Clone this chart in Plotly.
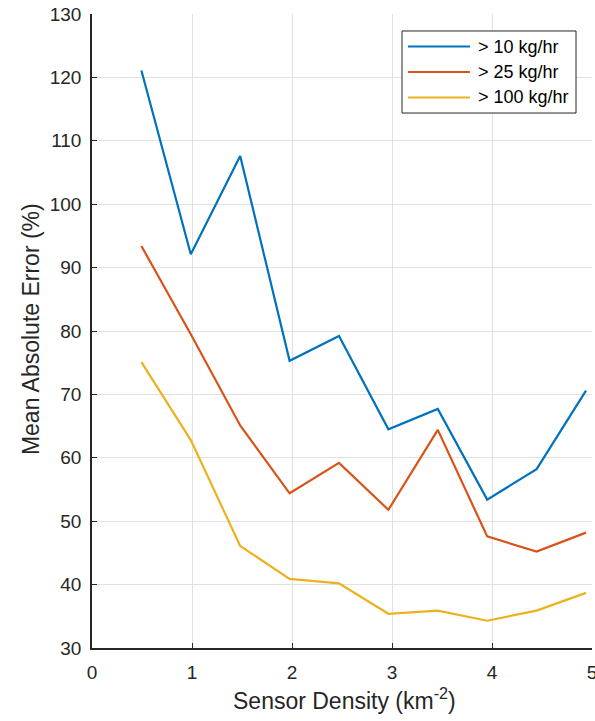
import plotly.graph_objects as go

density = [0.494, 0.988, 1.482, 1.976, 2.47, 2.964, 3.458, 3.952, 4.446, 4.94]
mae_10 = [121.1, 92.1, 107.6, 75.3, 79.2, 64.5, 67.7, 53.4, 58.2, 70.6]
mae_25 = [93.4, 79.5, 65.1, 54.4, 59.2, 51.8, 64.4, 47.6, 45.2, 48.2]
mae_100 = [75.1, 62.8, 46.1, 40.9, 40.2, 35.4, 35.9, 34.3, 35.9, 38.7]
series_names = ["> 10 kg/hr", "> 25 kg/hr", "> 100 kg/hr"]
series_colors = ["#0072BD", "#D95319", "#EDB120"]
x_ticks = [0, 1, 2, 3, 4, 5]
y_ticks = [30, 40, 50, 60, 70, 80, 90, 100, 110, 120, 130]

FONT = "Liberation Sans, Arial, sans-serif"
TXT = "#262626"

fig = go.Figure()
for name, vals, col in zip(series_names, [mae_10, mae_25, mae_100], series_colors):
    fig.add_trace(go.Scatter(x=density, y=vals, mode="lines", name=name,
                             line=dict(color=col, width=2.2), showlegend=False))

# legend box drawn in paper coordinates (long MATLAB-style line samples)
leg_x0, leg_x1, leg_top, leg_bot = 0.62, 0.968, 0.9732, 0.8438
row_y = [0.9487, 0.9085, 0.8683]
shapes = [dict(type="rect", xref="paper", yref="paper", x0=leg_x0, x1=leg_x1,
               y0=leg_bot, y1=leg_top, line=dict(color=TXT, width=1),
               fillcolor="white", layer="above")]
annotations = []
for name, col, ry in zip(series_names, series_colors, row_y):
    shapes.append(dict(type="line", xref="paper", yref="paper", x0=0.632, x1=0.756,
                       y0=ry, y1=ry, line=dict(color=col, width=2.2), layer="above"))
    annotations.append(dict(xref="paper", yref="paper", x=0.768, y=ry, text=name,
                            showarrow=False, xanchor="left", yanchor="middle",
                            font=dict(family=FONT, size=18, color="#000000")))

annotations.append(dict(xref="paper", yref="paper", x=0.504, y=-0.080,
                        text="Sensor Density (km<sup>-2</sup>)", showarrow=False,
                        xanchor="center", yanchor="middle",
                        font=dict(family=FONT, size=23, color=TXT)))
annotations.append(dict(xref="paper", yref="paper", x=-0.122, y=0.503,
                        text="Mean Absolute Error (%)", showarrow=False, textangle=-90,
                        xanchor="center", yanchor="middle",
                        font=dict(family=FONT, size=23, color=TXT)))

fig.update_layout(
    width=595, height=721,
    margin=dict(l=92, r=3, t=14, b=73, autoexpand=False),
    paper_bgcolor="white", plot_bgcolor="white",
    font=dict(family=FONT, size=19, color=TXT),
    showlegend=False,
    shapes=shapes, annotations=annotations,
    xaxis=dict(range=[0, 5], tickvals=x_ticks, showgrid=True,
               gridcolor="#e1e1e1", gridwidth=1, zeroline=False,
               showline=True, linecolor=TXT, linewidth=1.5,
               ticks="inside", ticklen=5, tickcolor=TXT,
               automargin=False, ticklabeloverflow="allow", ticklabelstandoff=6,
               tickfont=dict(size=19)),
    yaxis=dict(range=[30, 130], tickvals=y_ticks, showgrid=True,
               gridcolor="#e1e1e1", gridwidth=1, zeroline=False,
               showline=True, linecolor=TXT, linewidth=1.5,
               ticks="inside", ticklen=5, tickcolor=TXT,
               automargin=False, ticklabeloverflow="allow", ticklabelstandoff=5,
               tickfont=dict(size=19)),
)

fig.write_html("out.html", config={"displayModeBar": False},
               post_script="document.body.style.margin='0';")
